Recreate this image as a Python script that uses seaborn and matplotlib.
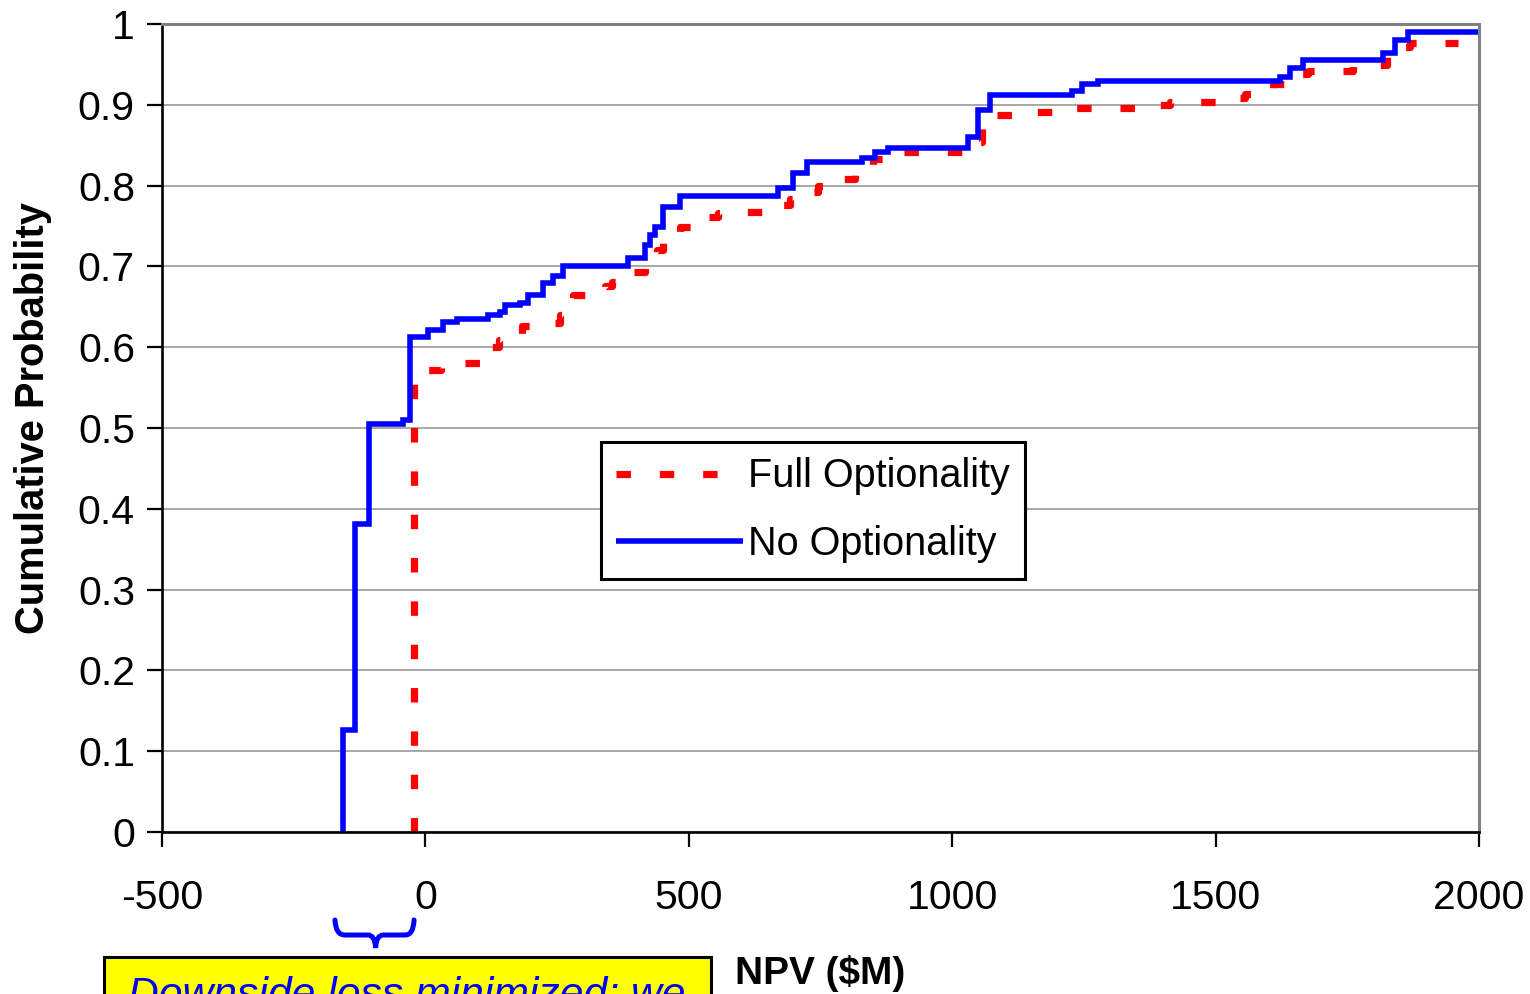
import numpy as np
import pandas as pd
import matplotlib
matplotlib.use("Agg")
import matplotlib.pyplot as plt
from matplotlib.path import Path
from matplotlib.patches import PathPatch, Rectangle
import matplotlib.transforms as mtransforms
from matplotlib.ticker import FuncFormatter
import seaborn as sns

# ---------------- data ----------------
series_names = ["Full Optionality", "No Optionality"]

full_npv = [-21.6, -21.6, 30, 55, 110, 125, 140, 165, 183, 217.5,
            255, 261, 280, 326, 341, 354, 373, 394, 417, 426,
            440, 451, 483, 521, 531, 556, 603, 654, 667, 692,
            717, 746, 778, 815, 850, 878, 1034, 1038, 1057, 1072,
            1142, 1205, 1381, 1413, 1542, 1556, 1584, 1609, 1650, 1675,
            1760, 1825, 1846, 1869, 1960]
full_prob = [0, .572, .576, .580, .596, .600, .609, .611, .626, .630,
             .640, .655, .665, .668, .676, .681, .686, .693, .705, .714,
             .720, .736, .749, .754, .761, .766, .767, .774, .776, .784,
             .792, .799, .808, .817, .833, .842, .845, .854, .879, .887,
             .891, .896, .900, .903, .908, .913, .917, .926, .938, .942,
             .949, .959, .972, .976, .976]

no_npv = [-156.8, -156.8, -133.6, -107.1, -42.5, -29.2, 4.9, 33.4, 60.0, 118.8,
          141.6, 151, 179.5, 194.7, 223.2, 242, 261.1, 384.5, 416.8, 426.3,
          435.8, 451, 483.3, 669.3, 697.8, 724.4, 828.8, 853.5, 878.2, 1030,
          1048.8, 1071.6, 1227.3, 1246.2, 1276.6, 1622, 1641, 1665.7, 1817.6, 1840.4,
          1865, 2000]
no_prob = [0, .126, .381, .505, .51, .613, .621, .631, .635, .640,
           .644, .652, .655, .665, .679, .688, .700, .710, .726, .739,
           .749, .774, .787, .797, .815, .829, .834, .842, .847, .860,
           .894, .912, .917, .926, .930, .934, .945, .955, .964, .980,
           .990, .990]

x_ticks = [-500, 0, 500, 1000, 1500, 2000]
y_ticks = [0, 0.1, 0.2, 0.3, 0.4, 0.5, 0.6, 0.7, 0.8, 0.9, 1]

x_label = "NPV ($M)"
y_label = "Cumulative Probability"
note_text = "Downside loss minimized; we"

df = pd.concat([
    pd.DataFrame({"npv": full_npv, "prob": full_prob, "series": series_names[0]}),
    pd.DataFrame({"npv": no_npv, "prob": no_prob, "series": series_names[1]}),
], ignore_index=True)

# ---------------- style ----------------
sns.set_theme(style="white")
plt.rcParams["font.family"] = ["Liberation Sans", "DejaVu Sans"]
plt.rcParams["axes.unicode_minus"] = False

W, H = 1530, 994
fig = plt.figure(figsize=(W / 100, H / 100), dpi=100)
ax = fig.add_axes([162 / W, 1 - 832 / H, 1317 / W, 808 / H])

sns.lineplot(data=df, x="npv", y="prob", hue="series", style="series",
             hue_order=series_names, style_order=series_names,
             palette={series_names[0]: "#FF0000", series_names[1]: "#0000FF"},
             dashes={series_names[0]: (2, 4), series_names[1]: ""},
             estimator=None, sort=False, drawstyle="steps-post",
             legend=False, ax=ax)

lw_map = {0: 5.2, 1: 4.0}
for i, line in enumerate(ax.lines):
    line.set_linewidth(lw_map.get(i, 4.0))
    line.set_solid_capstyle("butt")
    line.set_dash_capstyle("butt")
    line.set_solid_joinstyle("miter")

ax.set_xlim(-500, 2000)
ax.set_ylim(0, 1)
ax.set_xticks(x_ticks)
ax.set_yticks(y_ticks)
ax.yaxis.set_major_formatter(FuncFormatter(lambda v, p: f"{v:g}"))
ax.xaxis.set_major_formatter(FuncFormatter(lambda v, p: f"{v:g}"))

ax.grid(axis="y", color="#a0a0a0", linewidth=1.3)
ax.grid(axis="x", visible=False)
ax.set_axisbelow(True)

for side in ["left", "bottom"]:
    ax.spines[side].set_color("black")
    ax.spines[side].set_linewidth(1.9)
for side in ["top", "right"]:
    ax.spines[side].set_color("#808080")
    ax.spines[side].set_linewidth(2.2)

ax.tick_params(axis="both", which="major", direction="out", length=10.5, width=1.6,
               color="black", labelsize=29.5, labelcolor="black")
ax.tick_params(axis="x", pad=23, bottom=True)
ax.tick_params(axis="y", pad=9, left=True)

ax.set_xlabel(x_label, fontsize=28, fontweight="bold", color="black", va="top")
ax.xaxis.set_label_coords(0.5, (832 - 955) / 808)
ax.set_ylabel(y_label, fontsize=28.7, fontweight="bold", color="black")
ax.yaxis.set_label_coords((52 - 162) / 1317, (832 - 418) / 808)

leg = ax.legend([ax.lines[0], ax.lines[1]], series_names,
                loc="upper left", bbox_to_anchor=((601 - 162) / 1317, (832 - 442) / 808),
                borderaxespad=0, fontsize=28.5, frameon=True, fancybox=False,
                framealpha=1, edgecolor="black", handlelength=3.2, handletextpad=0.12,
                labelspacing=0.75, borderpad=0.39)
leg.get_frame().set_linewidth(2.2)
for t in leg.get_texts():
    t.set_color("black")

# ---------------- annotation: brace + yellow note box ----------------
btr = mtransforms.blended_transform_factory(ax.transData, fig.transFigure)
def fy(py):
    return 1 - py / H
brace_pts = [(-171.6, fy(920)), (-170.5, fy(935)), (-152.6, fy(935)),
             (-108.9, fy(935)),
             (-95.7, fy(935)), (-94.5, fy(948)),
             (-93.3, fy(935)), (-80.0, fy(935)),
             (-38.7, fy(935)),
             (-22.6, fy(935)), (-21.6, fy(920))]
brace_codes = [Path.MOVETO, Path.CURVE3, Path.CURVE3,
               Path.LINETO,
               Path.CURVE3, Path.CURVE3,
               Path.CURVE3, Path.CURVE3,
               Path.LINETO,
               Path.CURVE3, Path.CURVE3]
brace = PathPatch(Path(brace_pts, brace_codes), transform=btr, facecolor="none",
                  edgecolor="#0000FF", linewidth=3.6, clip_on=False, capstyle="round")
fig.add_artist(brace)

box = Rectangle((104 / W, -0.05), (711 - 104) / W, fy(957) + 0.05,
                transform=fig.transFigure, facecolor="#FFFF00", edgecolor="black",
                linewidth=2.2, clip_on=False)
fig.add_artist(box)
fig.text(128 / W, fy(975), note_text, color="#0000FF", fontsize=30.7,
         fontstyle="italic", va="top", ha="left")

fig.savefig("out.png", dpi=100, facecolor="white")
